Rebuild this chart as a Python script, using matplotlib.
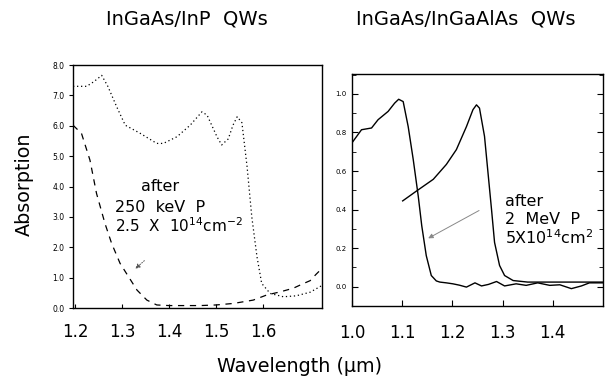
import numpy as np
import matplotlib
matplotlib.use("Agg")
import matplotlib.pyplot as plt

plt.rcParams['font.family'] = ['DejaVu Sans']
plt.rcParams['mathtext.default'] = 'regular'

# InGaAs/InP QWs (left)
inp_before_x = [1.196, 1.225, 1.240, 1.257, 1.270, 1.289, 1.307, 1.339, 1.374, 1.388,
                1.417, 1.445, 1.470, 1.481, 1.502, 1.512, 1.526, 1.536, 1.545, 1.555,
                1.566, 1.576, 1.587, 1.597, 1.615, 1.643, 1.670, 1.700, 1.725]
inp_before_y = [7.30, 7.30, 7.45, 7.66, 7.30, 6.62, 6.02, 5.75, 5.42, 5.42,
                5.64, 6.02, 6.46, 6.35, 5.64, 5.37, 5.57, 6.02, 6.30, 6.10,
                4.65, 3.00, 1.69, 0.81, 0.48, 0.37, 0.40, 0.52, 0.74]
inp_after_x = [1.196, 1.214, 1.232, 1.246, 1.264, 1.278, 1.296, 1.314, 1.332, 1.353,
               1.374, 1.400, 1.430, 1.466, 1.500, 1.537, 1.579, 1.608, 1.636, 1.664,
               1.685, 1.700, 1.712, 1.725]
inp_after_y = [6.02, 5.75, 4.87, 3.77, 2.78, 2.13, 1.47, 1.03, 0.59, 0.26,
               0.10, 0.08, 0.08, 0.08, 0.10, 0.15, 0.26, 0.43, 0.53, 0.65,
               0.80, 0.90, 1.10, 1.30]

# InGaAs/InGaAlAs QWs (right)
alas_before_x = [1.000, 1.019, 1.039, 1.052, 1.072, 1.085, 1.093, 1.102, 1.112, 1.122,
                 1.132, 1.139, 1.148, 1.158, 1.168, 1.175, 1.188, 1.201, 1.214, 1.228,
                 1.245, 1.258, 1.272, 1.288, 1.304, 1.327, 1.347, 1.370, 1.394, 1.414,
                 1.437, 1.457, 1.473, 1.499]
alas_before_y = [0.746, 0.814, 0.823, 0.866, 0.909, 0.952, 0.972, 0.960, 0.830, 0.660,
                 0.470, 0.316, 0.161, 0.058, 0.030, 0.024, 0.020, 0.015, 0.008, -0.002,
                 0.020, 0.004, 0.012, 0.027, 0.004, 0.015, 0.007, 0.020, 0.007, 0.010,
                 -0.010, 0.004, 0.020, 0.020]
alas_after_x = [1.101, 1.129, 1.162, 1.188, 1.208, 1.228, 1.241, 1.248, 1.254, 1.264,
                1.271, 1.278, 1.284, 1.294, 1.304, 1.321, 1.350, 1.400, 1.450, 1.499]
alas_after_y = [0.445, 0.497, 0.557, 0.634, 0.711, 0.830, 0.918, 0.943, 0.926, 0.780,
                0.590, 0.400, 0.230, 0.110, 0.058, 0.032, 0.024, 0.024, 0.024, 0.024]

left_xticks = [1.2, 1.3, 1.4, 1.5, 1.6]
left_yticks = [0, 1, 2, 3, 4, 5, 6, 7, 8]
right_xticks = [1.0, 1.1, 1.2, 1.3, 1.4]
right_yticks = [0.0, 0.2, 0.4, 0.6, 0.8, 1.0]

fig = plt.figure(figsize=(6.1, 3.85), dpi=100)

# ---- left panel
ax1 = fig.add_axes([0.1197, 0.2, 0.408, 0.631])
ax1.plot(inp_before_x, inp_before_y, color='black', ls=(0, (1, 2.2)), lw=0.9)
ax1.plot(inp_after_x, inp_after_y, color='black', ls=(0, (5, 4.5)), lw=0.9)
ax1.set_xlim(1.196, 1.725)
ax1.set_ylim(0, 8)
ax1.set_xticks(left_xticks)
ax1.set_xticklabels(['%.1f' % v for v in left_xticks], fontsize=12)
ax1.set_yticks(left_yticks)
ax1.set_yticklabels(['%.1f' % v for v in left_yticks], fontsize=5.5)
ax1.tick_params(axis='x', direction='in', length=3, pad=11)
ax1.tick_params(axis='y', direction='out', length=3, pad=3)
for s in ax1.spines.values():
    s.set_linewidth(1.0)
ax1.text(1.38, 4.0, 'after', fontsize=11.5, ha='center', va='center')
ax1.text(1.286, 3.3, '250  keV  P', fontsize=11.5, ha='left', va='center')
ax1.text(1.286, 2.72, r'2.5  X  10$^{14}$cm$^{-2}$', fontsize=11, ha='left', va='center')
ax1.annotate('', xy=(1.324, 1.23), xytext=(1.352, 1.62),
             arrowprops=dict(arrowstyle='-|>', color='#555555', lw=0.7, ls=':',
                             mutation_scale=7))

# ---- right panel
ax2 = fig.add_axes([0.577, 0.2052, 0.4115, 0.6026])
ax2.plot(alas_before_x, alas_before_y, color='black', lw=1.0)
ax2.plot(alas_after_x, alas_after_y, color='black', lw=1.0)
ax2.set_xlim(1.0, 1.5)
ax2.set_ylim(-0.093, 1.103)
ax2.set_xticks(right_xticks)
ax2.set_xticklabels(['%.1f' % v for v in right_xticks], fontsize=12)
ax2.set_yticks(right_yticks)
ax2.set_yticklabels(['%.1f' % v for v in right_yticks], fontsize=5)
ax2.set_yticks(np.arange(-0.1, 1.11, 0.1), minor=True)
ax2.tick_params(axis='x', direction='in', length=4, pad=13)
ax2.tick_params(axis='y', which='both', direction='in', length=4, pad=4, right=True)
ax2.tick_params(axis='y', which='minor', length=0)
ax2.tick_params(axis='y', which='minor', right=True, length=3)
for s in ax2.spines.values():
    s.set_linewidth(1.0)
ax2.text(1.305, 0.44, 'after', fontsize=11.5, ha='left', va='center')
ax2.text(1.305, 0.35, '2  MeV  P', fontsize=11.5, ha='left', va='center')
ax2.text(1.305, 0.255, r'5X10$^{14}$cm$^{2}$', fontsize=11.5, ha='left', va='center')
ax2.annotate('', xy=(1.147, 0.244), xytext=(1.258, 0.402),
             arrowprops=dict(arrowstyle='-|>', color='#888888', lw=0.7,
                             mutation_scale=7))

# ---- titles and shared labels
fig.text(187 / 610, 1 - 19 / 385, 'InGaAs/InP  QWs', fontsize=14, ha='center', va='center')
fig.text(466 / 610, 1 - 19 / 385, 'InGaAs/InGaAlAs  QWs', fontsize=14, ha='center', va='center')
fig.text(300 / 610, 1 - 366 / 385, 'Wavelength (\u00b5m)', fontsize=13.8, ha='center', va='center')
fig.text(24 / 610, 1 - 184 / 385, 'Absorption', fontsize=13.8, ha='center', va='center',
         rotation=90)

fig.savefig('out.png', dpi=100)
